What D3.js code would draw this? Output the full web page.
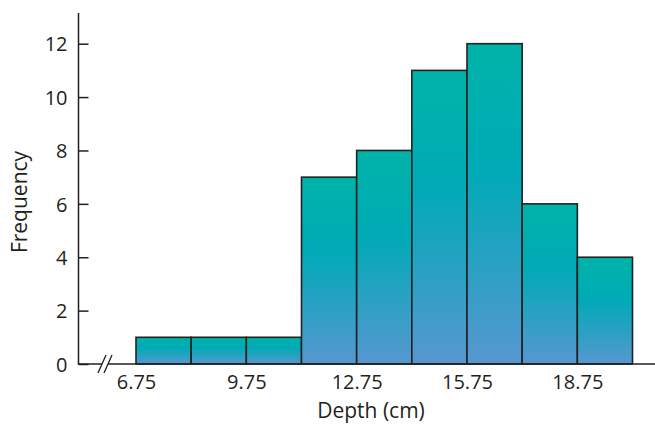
<!DOCTYPE html>
<html>
<head>
<meta charset="utf-8">
<script src="https://cdn.jsdelivr.net/npm/d3@7/dist/d3.min.js"></script>
<style>
  html, body { margin: 0; padding: 0; background: #fff; }
  svg { display: block; }
  text { font-family: "Open Sans", "Noto Sans", sans-serif; fill: #231f20; }
</style>
</head>
<body>
<svg id="chart" width="655" height="425"></svg>
<script>
// Data
const binEdges = [6.75, 8.25, 9.75, 11.25, 12.75, 14.25, 15.75, 17.25, 18.75, 20.25];
const frequencies = [1, 1, 1, 7, 8, 11, 12, 6, 4];
const xTickValues = [6.75, 9.75, 12.75, 15.75, 18.75];
const yTickValues = [0, 2, 4, 6, 8, 10, 12];
const xTitle = "Depth (cm)";
const yTitle = "Frequency";

const svg = d3.select("#chart");
const x = d3.scaleLinear().domain([6.75, 20.25]).range([136, 632.5]);
const y = d3.scaleLinear().domain([0, 12]).range([364, 43.7]);

const defs = svg.append("defs");
const grad = defs.append("linearGradient").attr("id", "barGrad")
  .attr("x1", 0).attr("y1", 0).attr("x2", 0).attr("y2", 1);
grad.append("stop").attr("offset", "0%").attr("stop-color", "#00b3a8");
grad.append("stop").attr("offset", "40%").attr("stop-color", "#00aab7");
grad.append("stop").attr("offset", "100%").attr("stop-color", "#5797d0");

const bins = frequencies.map((f, i) => ({ x0: binEdges[i], x1: binEdges[i + 1], f }));

svg.append("g").selectAll("rect").data(bins).join("rect")
  .attr("x", d => x(d.x0))
  .attr("y", d => y(d.f))
  .attr("width", d => x(d.x1) - x(d.x0))
  .attr("height", d => y(0) - y(d.f))
  .attr("fill", "url(#barGrad)")
  .attr("stroke", "#222")
  .attr("stroke-width", 1.6);

// Y axis
const yAxis = d3.axisRight(y).tickValues(yTickValues).tickSize(10).tickFormat(d3.format("d"));
const gy = svg.append("g").attr("transform", "translate(78.5,0)").call(yAxis);
gy.select(".domain").remove();
gy.selectAll(".tick line").attr("stroke", "#231f20").attr("stroke-width", 1.5);
gy.selectAll(".tick text").attr("x", -11).attr("text-anchor", "end")
  .style("font-size", "20px").attr("dy", "0.36em");
svg.append("line").attr("x1", 78.5).attr("x2", 78.5).attr("y1", 13).attr("y2", y(0))
  .attr("stroke", "#231f20").attr("stroke-width", 1.5);

// X axis
const xAxis = d3.axisBottom(x).tickValues(xTickValues).tickSize(0).tickFormat(d3.format(".2f"));
const gx = svg.append("g").attr("transform", `translate(0,${y(0)})`).call(xAxis);
gx.select(".domain").remove();
gx.selectAll(".tick text").style("font-size", "20px").attr("y", 11).attr("dy", "0.71em");

// axis baseline with break
svg.append("line").attr("x1", 77.75).attr("x2", 102).attr("y1", y(0)).attr("y2", y(0))
  .attr("stroke", "#231f20").attr("stroke-width", 1.5);
svg.append("line").attr("x1", 108).attr("x2", 655).attr("y1", y(0)).attr("y2", y(0))
  .attr("stroke", "#231f20").attr("stroke-width", 1.5);
[[98, 106], [104, 112]].forEach(([a, b]) => {
  svg.append("line").attr("x1", a).attr("y1", 373).attr("x2", b).attr("y2", 355)
    .attr("stroke", "#231f20").attr("stroke-width", 1.3);
});

// Titles
svg.append("text").attr("x", 371).attr("y", 418).attr("text-anchor", "middle")
  .style("font-size", "21px").text(xTitle);
svg.append("text").attr("transform", "translate(27,202) rotate(-90)").attr("text-anchor", "middle")
  .style("font-size", "21px").text(yTitle);
</script>
</body>
</html>
